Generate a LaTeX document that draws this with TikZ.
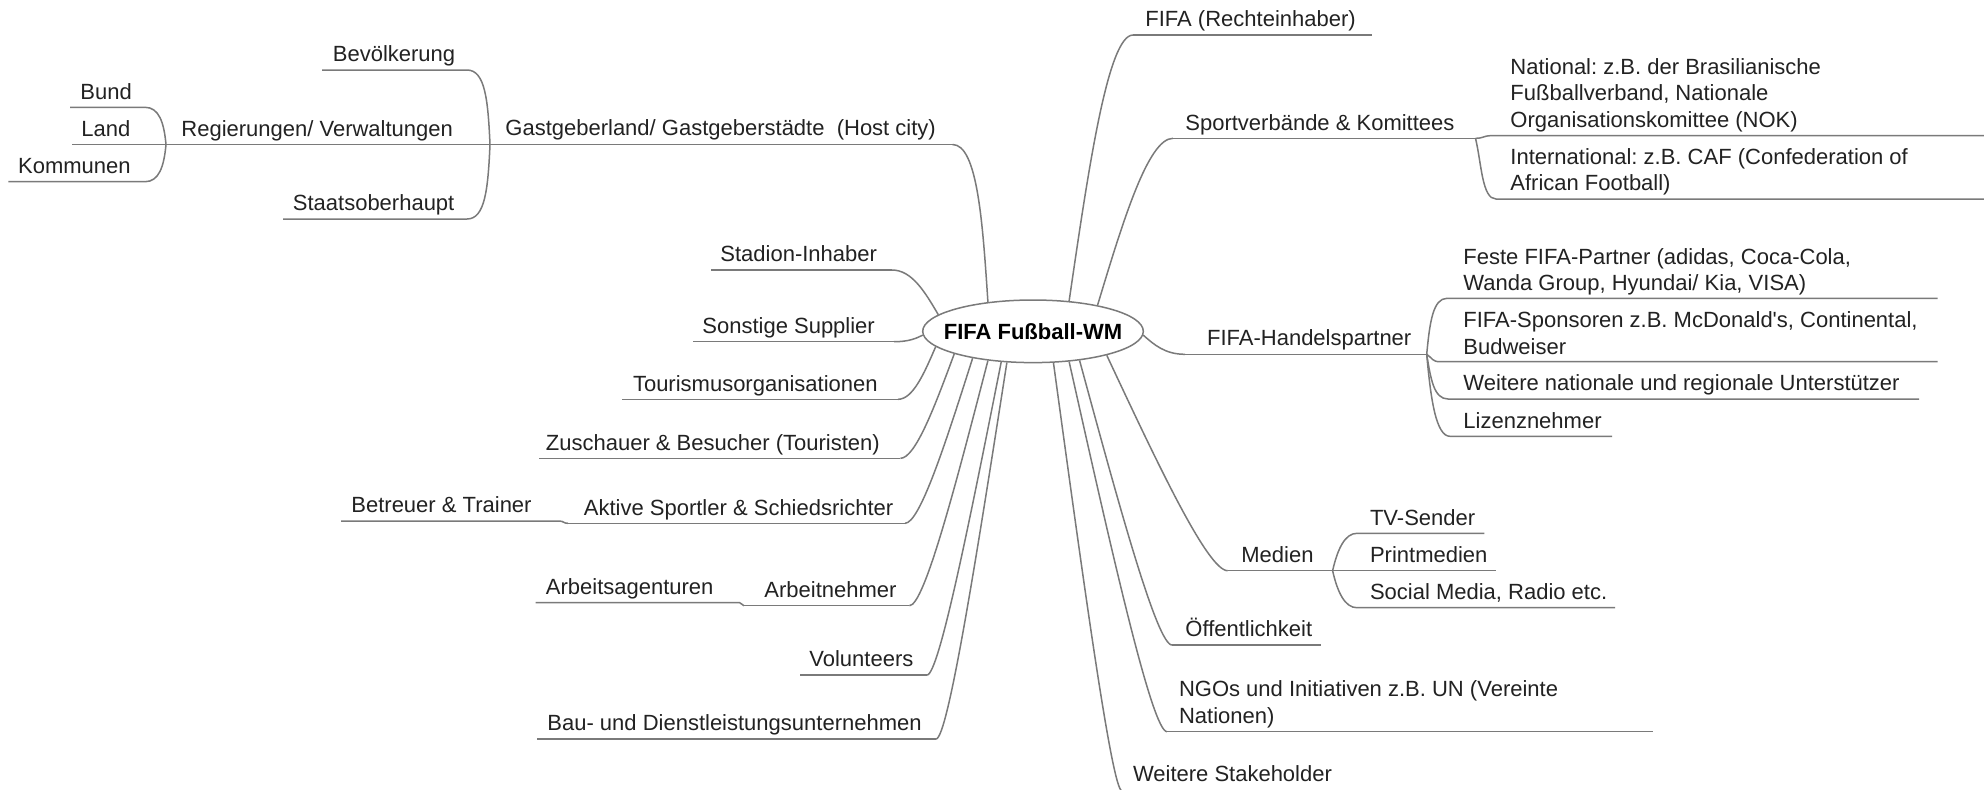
\documentclass[tikz,border=0pt]{standalone}
\usepackage{fontspec}
\setmainfont{Liberation Sans}
\frenchspacing
\usetikzlibrary{calc,shapes.geometric}
\definecolor{linkc}{HTML}{7A7A7A}
\definecolor{txtc}{HTML}{222222}
\tikzset{
  lbl/.style={anchor=base west, inner sep=0pt, text=txtc, font=\fontsize{11}{13.35}\selectfont, align=left},
  link/.style={draw=linkc, line width=0.75pt},
  hub/.style={ellipse, draw=linkc, line width=0.75pt, minimum width=110.3pt, minimum height=31.3pt, inner sep=0pt, font=\bfseries\fontsize{11}{13}\selectfont, text=black}
}
\newcommand\mmlink[3]{\path (#2) ++(#3,0) coordinate (mmB);
  \draw[link] (#1) .. controls ($(#1)!0.5!(mmB)$) and (mmB) .. (#2);}
\begin{document}
\begin{tikzpicture}[x=0.5pt,y=-0.5pt]
\useasboundingbox (0,0) rectangle (1984,789);
\fill[white] (0,0) rectangle (1984,789);

\node[hub] (wm) at (1033,331.3) {\makebox[0pt]{FIFA Fußball-WM}};

% ---------- left upper: host ----------
\node[lbl] (gast) at (505,135.5) {Gastgeberland/ Gastgeberstädte\ \ (Host city)};
\coordinate (J1) at (490,144.5);
\coordinate (gastR) at (952.5,144.5);
\draw[link] (J1) -- (gastR);
\mmlink{wm.147}{gastR}{25}

\node[lbl] (reg) at (181,136) {Regierungen/ Verwaltungen};
\coordinate (J2) at (166,144.5);
\draw[link] (J2) -- (J1);

\node[lbl] (bev) at (332.5,61.7) {Bevölkerung};
\coordinate (bevL) at (322,70); \coordinate (bevR) at (467,70);
\draw[link] (J1) .. controls +(-2,-45) and +(18,0) .. (bevR) -- (bevL);

\node[lbl] (sta) at (292.5,210.5) {Staatsoberhaupt};
\coordinate (staL) at (283,219); \coordinate (staR) at (467,219);
\draw[link] (J1) .. controls +(-2,45) and +(18,0) .. (staR) -- (staL);

\node[lbl] (bund) at (80,99) {Bund};
\coordinate (bundL) at (70,107.3); \coordinate (bundR) at (145,107.3);
\draw[link] (J2) .. controls +(-2,-22) and +(14,0) .. (bundR) -- (bundL);

\node[lbl] (land) at (81,136) {Land};
\coordinate (landL) at (72,144.5);
\draw[link] (J2) -- (landL);

\node[lbl] (kom) at (17.7,173) {Kommunen};
\coordinate (komL) at (8.4,181.7); \coordinate (komR) at (145,181.7);
\draw[link] (J2) .. controls +(-2,22) and +(14,0) .. (komR) -- (komL);

% ---------- left lower ----------
\node[lbl] (stad) at (720,261.5) {Stadion-Inhaber};
\coordinate (stadL) at (711,270); \coordinate (stadR) at (892,270);
\draw[link] (stadR) -- (stadL);
\mmlink{wm.170}{stadR}{20}

\node[lbl] (sup) at (702,333) {Sonstige Supplier};
\coordinate (supL) at (693,341.7); \coordinate (supR) at (894,341.7);
\draw[link] (supR) -- (supL);
\mmlink{wm.182}{supR}{15}

\node[lbl] (tou) at (632.6,391) {Tourismusorganisationen};
\coordinate (touL) at (622,399.3); \coordinate (touR) at (898,399.3);
\draw[link] (touR) -- (touL);
\mmlink{wm.189.4}{touR}{15}

\node[lbl] (zus) at (545.5,450) {Zuschauer \& Besucher (Touristen)};
\coordinate (zusL) at (539,458.3); \coordinate (zusR) at (900.4,458.3);
\draw[link] (zusR) -- (zusL);
\mmlink{wm.196.3}{zusR}{15}

\node[lbl] (akt) at (583.5,515) {Aktive Sportler \& Schiedsrichter};
\coordinate (aktL) at (568,523.3); \coordinate (aktR) at (905,523.3);
\draw[link] (aktR) -- (aktL);
\mmlink{wm.204.7}{aktR}{15}

\node[lbl] (bet) at (351,512.5) {Betreuer \& Trainer};
\coordinate (betL) at (341,521); \coordinate (betR) at (559,521);
\draw[link] (aktL) .. controls +(-5,0) and +(5,0) .. (betR) -- (betL);

\node[lbl] (arb) at (764,597) {Arbeitnehmer};
\coordinate (arbL) at (744,605.7); \coordinate (arbR) at (909.4,605.7);
\draw[link] (arbR) -- (arbL);
\mmlink{wm.213.5}{arbR}{15}

\node[lbl] (arag) at (545.5,594) {Arbeitsagenturen};
\coordinate (aragL) at (535.7,602.7); \coordinate (aragR) at (739.7,602.7);
\draw[link] (arbL) .. controls +(-3,0) and +(3,0) .. (aragR) -- (aragL);

\node[lbl] (vol) at (809,666.5) {Volunteers};
\coordinate (volL) at (800,675); \coordinate (volR) at (927,675);
\draw[link] (volR) -- (volL);
\mmlink{wm.224.5}{volR}{12}

\node[lbl] (bau) at (547,730.5) {Bau- und Dienstleistungsunternehmen};
\coordinate (bauL) at (536.6,739); \coordinate (bauR) at (936,739);
\draw[link] (bauR) -- (bauL);
\mmlink{wm.230.3}{bauR}{12}

% ---------- right upper ----------
\node[lbl] (fifa) at (1145,26.5) {FIFA (Rechteinhaber)};
\coordinate (fifaL) at (1133,35); \coordinate (fifaR) at (1372,35);
\draw[link] (fifaL) -- (fifaR);
\mmlink{wm.40.2}{fifaL}{-25}

\node[lbl] (sport) at (1185,130) {Sportverbände \& Komittees};
\coordinate (sportL) at (1173,138.3); \coordinate (J3) at (1475.5,138.3);
\draw[link] (sportL) -- (J3);
\mmlink{wm.22.8}{sportL}{-25}

\node[lbl] (nat) at (1510,127.4) {National: z.B. der Brasilianische\\Fußballverband, Nationale\\Organisationskomittee (NOK)};
\coordinate (natL) at (1490,135.7); \coordinate (natR) at (1984,135.7);
\draw[link] (J3) .. controls +(8,0) and +(-6,0) .. (natL) -- (natR);

\node[lbl] (intl) at (1510,190.7) {International: z.B. CAF (Confederation of\\African Football)};
\coordinate (intlL) at (1496,199); \coordinate (intlR) at (1984,199);
\draw[link] (J3) .. controls +(6,25) and +(-14,0) .. (intlL) -- (intlR);

% ---------- Handelspartner ----------
\node[lbl] (hp) at (1206.7,345.7) {FIFA-Handelspartner};
\coordinate (hpL) at (1185,354.3); \coordinate (J4) at (1426.7,354.3);
\draw[link] (hpL) -- (J4);
\mmlink{wm.-2.8}{hpL}{-20}

\node[lbl] (fest) at (1463,290.7) {Feste FIFA-Partner (adidas, Coca-Cola,\\Wanda Group, Hyundai/ Kia, VISA)};
\coordinate (festL) at (1447,298.3); \coordinate (festR) at (1937.5,298.3);
\draw[link] (J4) .. controls +(3,-32) and +(-14,0) .. (festL) -- (festR);

\node[lbl] (spon) at (1463,354) {FIFA-Sponsoren z.B. McDonald\textquotesingle s, Continental,\\Budweiser};
\coordinate (sponL) at (1440,361.7); \coordinate (sponR) at (1937.5,361.7);
\draw[link] (J4) .. controls +(6,4) and +(-8,0) .. (sponL) -- (sponR);

\node[lbl] (wnat) at (1463,390.5) {Weitere nationale und regionale Unterstützer};
\coordinate (wnatL) at (1448,399); \coordinate (wnatR) at (1919,399);
\draw[link] (J4) .. controls +(4,25) and +(-14,0) .. (wnatL) -- (wnatR);

\node[lbl] (liz) at (1463,428) {Lizenznehmer};
\coordinate (lizL) at (1450,436.3); \coordinate (lizR) at (1612,436.3);
\draw[link] (J4) .. controls +(4,45) and +(-14,0) .. (lizL) -- (lizR);

% ---------- Medien ----------
\node[lbl] (med) at (1241,562) {Medien};
\coordinate (medL) at (1227.7,570.7); \coordinate (J5) at (1332.6,570.7);
\draw[link] (medL) -- (J5);
\mmlink{wm.-18.7}{medL}{-20}

\node[lbl] (tv) at (1369.6,525) {TV-Sender};
\coordinate (tvL) at (1357,533.3); \coordinate (tvR) at (1484.4,533.3);
\draw[link] (J5) .. controls +(5,-22) and +(-12,0) .. (tvL) -- (tvR);

\node[lbl] (print) at (1369.6,562) {Printmedien};
\coordinate (printR) at (1495.5,570.7);
\draw[link] (J5) -- (printR);

\node[lbl] (soc) at (1369.6,599) {Social Media, Radio etc.};
\coordinate (socL) at (1357,607.7); \coordinate (socR) at (1615,607.7);
\draw[link] (J5) .. controls +(5,22) and +(-12,0) .. (socL) -- (socR);

% ---------- right lower ----------
\node[lbl] (oef) at (1185,636.5) {Öffentlichkeit};
\coordinate (oefL) at (1172,645); \coordinate (oefR) at (1320.5,645);
\draw[link] (oefL) -- (oefR);
\mmlink{wm.-32.5}{oefL}{-15}

\node[lbl] (ngo) at (1178.6,723.2) {NGOs und Initiativen z.B. UN (Vereinte\\Nationen)};
\coordinate (ngoL) at (1167,731.7); \coordinate (ngoR) at (1652.7,731.7);
\draw[link] (ngoL) -- (ngoR);
\mmlink{wm.-40.3}{ngoL}{-15}

\node[lbl] (wst) at (1132.6,781) {Weitere Stakeholder};
\coordinate (wstL) at (1122,791); \coordinate (wstR) at (1345,791);
\draw[link] (wstL) -- (wstR);
\mmlink{wm.-57.8}{wstL}{-10}
\end{tikzpicture}
\end{document}
